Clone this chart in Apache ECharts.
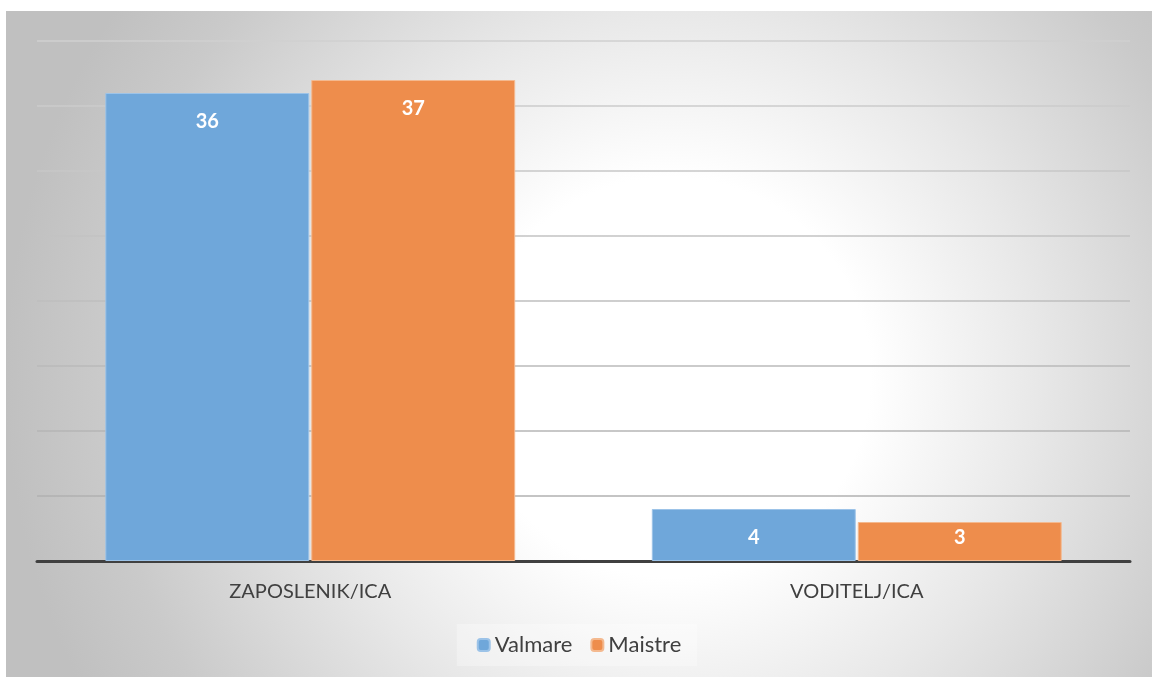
<!DOCTYPE html>
<html>
<head>
<meta charset="utf-8">
<script src="https://cdn.jsdelivr.net/npm/echarts@6/dist/echarts.min.js"></script>
<style>
    html, body { margin: 0; padding: 0; background: #fff; }
    #chart { position: absolute; left: 6px; top: 11px; width: 1146px; height: 666px; }
</style>
</head>
<body>
<div id="chart"></div>
<script>
var categories = ['ZAPOSLENIK/ICA', 'VODITELJ/ICA'];
var valmare = [36, 4];
var maistre = [37, 3];
var seriesNames = ['Valmare', 'Maistre'];

var mychart = echarts.init(document.getElementById('chart'));
var labelStyle = {
    show: true,
    position: 'insideTop',
    distance: 19,
    color: '#fff',
    fontWeight: 'bold',
    fontSize: 20,
    fontFamily: 'Lato'
};
// short bars: label sits closer to the top (like Excel does)
function toItems(arr) {
    return arr.map(function (v) {
        if (v <= 3) return { value: v, label: { distance: 6 } };
        return v;
    });
}
var option = {
    backgroundColor: {
        type: 'radial', x: 0.58, y: 0.55, r: 1.0,
        colorStops: [
            { offset: 0, color: '#ffffff' },
            { offset: 0.3, color: '#ffffff' },
            { offset: 0.55, color: '#e8e8e8' },
            { offset: 0.85, color: '#cacaca' },
            { offset: 1, color: '#c0c0c0' }
        ]
    },
    animation: false,
    grid: { left: 31, right: 22, top: 30, bottom: 116 },
    legend: {
        data: seriesNames,
        bottom: 11,
        left: 'center',
        itemWidth: 12,
        itemHeight: 12,
        itemGap: 18,
        padding: [10, 16, 10, 20],
        backgroundColor: 'rgba(255,255,255,0.3)',
        textStyle: { fontSize: 22, color: '#404040', fontFamily: 'Lato' }
    },
    xAxis: {
        type: 'category',
        data: categories,
        axisLine: { show: true, lineStyle: { color: '#404040', width: 3 } },
        axisTick: { show: false },
        axisLabel: { fontSize: 20, color: '#404040', fontFamily: 'Lato', margin: 21 }
    },
    yAxis: {
        type: 'value',
        min: 0,
        max: 40,
        interval: 5,
        axisLine: { show: false },
        axisTick: { show: false },
        axisLabel: { show: false },
        splitLine: {
            lineStyle: {
                width: 1.5,
                color: {
                    type: 'linear', x: 0, y: 0, x2: 0, y2: 666, global: true,
                    colorStops: [
                        { offset: 0, color: '#d2d2d2' },
                        { offset: 1, color: '#a4a4a4' }
                    ]
                }
            }
        }
    },
    series: [
        {
            name: seriesNames[0],
            type: 'bar',
            data: toItems(valmare),
            barGap: '1%',
            barCategoryGap: '25%',
            itemStyle: { color: '#6fa7da', borderColor: '#9cc3e8', borderWidth: 1 },
            label: labelStyle
        },
        {
            name: seriesNames[1],
            type: 'bar',
            data: toItems(maistre),
            itemStyle: { color: '#ee8d4c', borderColor: '#f4b98f', borderWidth: 1 },
            label: labelStyle
        }
    ]
};
mychart.setOption(option);
</script>
</body>
</html>
